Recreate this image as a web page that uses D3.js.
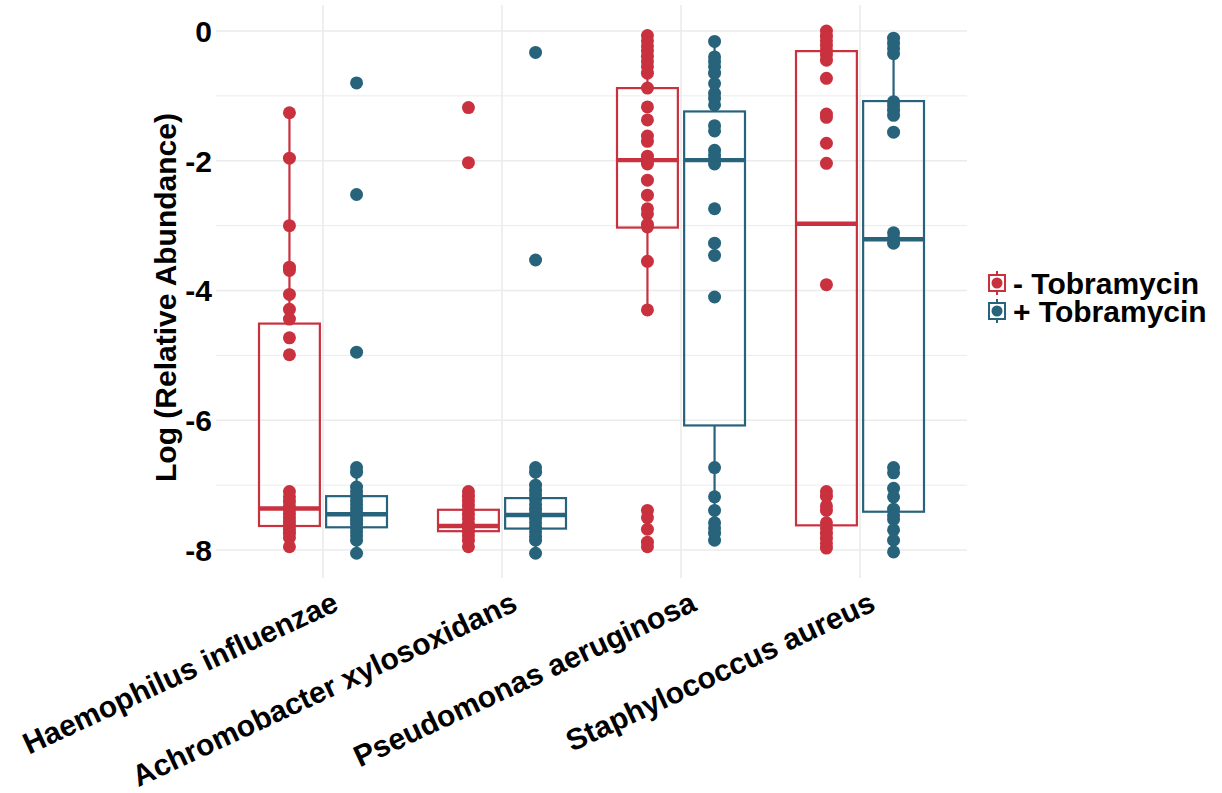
<!DOCTYPE html>
<meta charset="utf-8">
<title>Log relative abundance by species</title>
<style>
body { margin: 0; background: #fff; }
text { font-family: "Liberation Sans", Arial, sans-serif; font-weight: bold; fill: #000; }
.grid line { stroke: #ebebeb; }
</style>
<body>
<div id="chart"></div>
<script src="https://cdn.jsdelivr.net/npm/d3@7"></script>
<script>
// categories
const species = ["Haemophilus influenzae", "Achromobacter xylosoxidans", "Pseudomonas aeruginosa", "Staphylococcus aureus"];
const treatments = ["- Tobramycin", "+ Tobramycin"];
const yTicks = [0, -2, -4, -6, -8];

// raw points, per species (same order as species), without tobramycin
const pointsMinus = [
  [-1.26, -1.96, -3.0, -3.64, -3.69, -4.06, -4.29, -4.44, -4.73, -4.99,
   -7.10, -7.18, -7.25, -7.32, -7.38, -7.44, -7.50, -7.56, -7.62, -7.68, -7.74, -7.81, -7.95],
  [-1.18, -2.03, -7.10, -7.17, -7.24, -7.31, -7.38, -7.45, -7.52, -7.60, -7.66, -7.72, -7.78, -7.85, -7.95],
  [-0.07, -0.15, -0.23, -0.31, -0.39, -0.47, -0.55, -0.65, -0.88, -1.17, -1.37, -1.62, -1.70, -1.93,
   -2.0, -2.05, -2.30, -2.53, -2.74, -2.82, -2.98, -3.02, -3.55, -4.30, -7.39, -7.50, -7.68, -7.88, -7.95],
  [0.0, -0.08, -0.15, -0.22, -0.30, -0.37, -0.45, -0.73, -1.28, -1.33, -1.73, -2.04, -3.91,
   -7.10, -7.17, -7.32, -7.39, -7.58, -7.66, -7.74, -7.82, -7.90, -7.97]
];
// with tobramycin
const pointsPlus = [
  [-0.80, -2.52, -4.95, -6.73, -6.80, -7.03, -7.10, -7.17, -7.24, -7.30, -7.36, -7.42, -7.48, -7.54,
   -7.60, -7.66, -7.72, -7.78, -7.85, -8.05],
  [-0.33, -3.53, -6.73, -6.80, -7.00, -7.08, -7.15, -7.22, -7.30, -7.37, -7.44, -7.51, -7.58, -7.65,
   -7.72, -7.79, -7.85, -8.05],
  [-0.16, -0.40, -0.47, -0.55, -0.65, -0.81, -0.96, -1.04, -1.14, -1.46, -1.54, -1.84, -1.91, -1.97,
   -2.05, -2.74, -3.27, -3.46, -4.10, -6.73, -7.18, -7.39, -7.58, -7.66, -7.74, -7.85],
  [-0.11, -0.19, -0.27, -0.35, -1.09, -1.15, -1.22, -1.30, -1.56, -3.11, -3.19, -3.27,
   -6.73, -6.81, -7.05, -7.18, -7.37, -7.47, -7.53, -7.69, -7.85, -8.03]
];

// box stats: [lower whisker, q1, median, q3, upper whisker]
const boxMinus = [
  [-7.95, -7.63, -7.36, -4.51, -1.26],
  [-7.95, -7.71, -7.63, -7.38, -7.10],
  [-4.30, -3.03, -1.99, -0.88, -0.07],
  [-7.97, -7.62, -2.97, -0.31, 0.0]
];
const boxPlus = [
  [-8.05, -7.65, -7.45, -7.17, -6.73],
  [-8.05, -7.67, -7.46, -7.20, -6.73],
  [-7.85, -6.08, -1.99, -1.24, -0.16],
  [-8.03, -7.41, -3.21, -1.08, -0.11]
];

const colors = ["#c9313f", "#27637b"];

const width = 1222, height = 793;
const panel = { left: 216, right: 967, top: 5, bottom: 578 };

const svg = d3.select("#chart").append("svg")
    .attr("width", width)
    .attr("height", height);

const x = d3.scalePoint()
    .domain(species)
    .range([323, 860]);
const step = x.step();
const dodge = step * 0.1875;
const boxW = step * 0.34;

const y = d3.scaleLinear()
    .domain([-8, 0])
    .range([550, 31]);

// grid
const grid = svg.append("g").attr("class", "grid");
grid.selectAll(".minor")
  .data([-7, -5, -3, -1])
  .enter().append("line")
    .attr("x1", panel.left).attr("x2", panel.right)
    .attr("y1", d => y(d)).attr("y2", d => y(d))
    .attr("stroke-width", 1);
grid.selectAll(".major")
  .data(yTicks)
  .enter().append("line")
    .attr("x1", panel.left).attr("x2", panel.right)
    .attr("y1", d => y(d)).attr("y2", d => y(d))
    .attr("stroke-width", 1.6);
grid.selectAll(".vert")
  .data(species)
  .enter().append("line")
    .attr("x1", d => x(d)).attr("x2", d => x(d))
    .attr("y1", panel.top).attr("y2", panel.bottom)
    .attr("stroke-width", 1.6);

// y tick labels
svg.append("g").selectAll("text")
  .data(yTicks)
  .enter().append("text")
    .attr("x", 212)
    .attr("y", d => y(d))
    .attr("dy", "0.36em")
    .attr("text-anchor", "end")
    .style("font-size", "30px")
    .text(d => d === 0 ? "0" : "-" + Math.abs(d));

// y title
svg.append("text")
    .attr("transform", `translate(176, ${(panel.top + panel.bottom) / 2 + 6}) rotate(-90)`)
    .attr("text-anchor", "middle")
    .style("font-size", "30px")
    .text("Log (Relative Abundance)");

// x tick labels
svg.append("g").selectAll("text")
  .data(species)
  .enter().append("text")
    .attr("transform", d => `translate(${x(d) + 8}, 590) rotate(-25)`)
    .attr("text-anchor", "end")
    .attr("dy", "0.72em")
    .style("font-size", "30px")
    .text(d => d);

// boxes
function drawGroup(stats, pts, k) {
  const off = k === 0 ? -dodge : dodge;
  const col = colors[k];
  const g = svg.append("g");
  stats.forEach((s, i) => {
    const cx = x(species[i]) + off;
    // whiskers
    g.append("line")
        .attr("x1", cx).attr("x2", cx)
        .attr("y1", y(s[0])).attr("y2", y(s[1]))
        .attr("stroke", col).attr("stroke-width", 2.2);
    g.append("line")
        .attr("x1", cx).attr("x2", cx)
        .attr("y1", y(s[3])).attr("y2", y(s[4]))
        .attr("stroke", col).attr("stroke-width", 2.2);
    g.append("rect")
        .attr("x", cx - boxW / 2)
        .attr("y", y(s[3]))
        .attr("width", boxW)
        .attr("height", y(s[1]) - y(s[3]))
        .attr("fill", "none")
        .attr("stroke", col).attr("stroke-width", 2.2);
    g.append("line")
        .attr("x1", cx - boxW / 2).attr("x2", cx + boxW / 2)
        .attr("y1", y(s[2])).attr("y2", y(s[2]))
        .attr("stroke", col).attr("stroke-width", 4.4);
    g.selectAll(null)
      .data(pts[i])
      .enter().append("circle")
        .attr("cx", cx)
        .attr("cy", d => y(d))
        .attr("r", 6.5)
        .attr("fill", col);
  });
}
drawGroup(boxMinus, pointsMinus, 0);
drawGroup(boxPlus, pointsPlus, 1);

// legend
const legend = svg.append("g")
    .attr("transform", "translate(988, 283)");
treatments.forEach((t, i) => {
  const row = legend.append("g").attr("transform", `translate(0, ${i * 28})`);
  row.append("line")
      .attr("x1", 9).attr("x2", 9).attr("y1", -12).attr("y2", 12)
      .attr("stroke", colors[i]).attr("stroke-width", 2);
  row.append("rect")
      .attr("x", 1).attr("y", -8).attr("width", 16).attr("height", 16)
      .attr("fill", "#fff")
      .attr("stroke", colors[i]).attr("stroke-width", 2);
  row.append("circle")
      .attr("cx", 9).attr("cy", 0).attr("r", 5.5)
      .attr("fill", colors[i]);
  row.append("text")
      .attr("x", 25).attr("y", 0).attr("dy", "0.36em")
      .style("font-size", "30px")
      .text(t);
});
</script>
</body>
